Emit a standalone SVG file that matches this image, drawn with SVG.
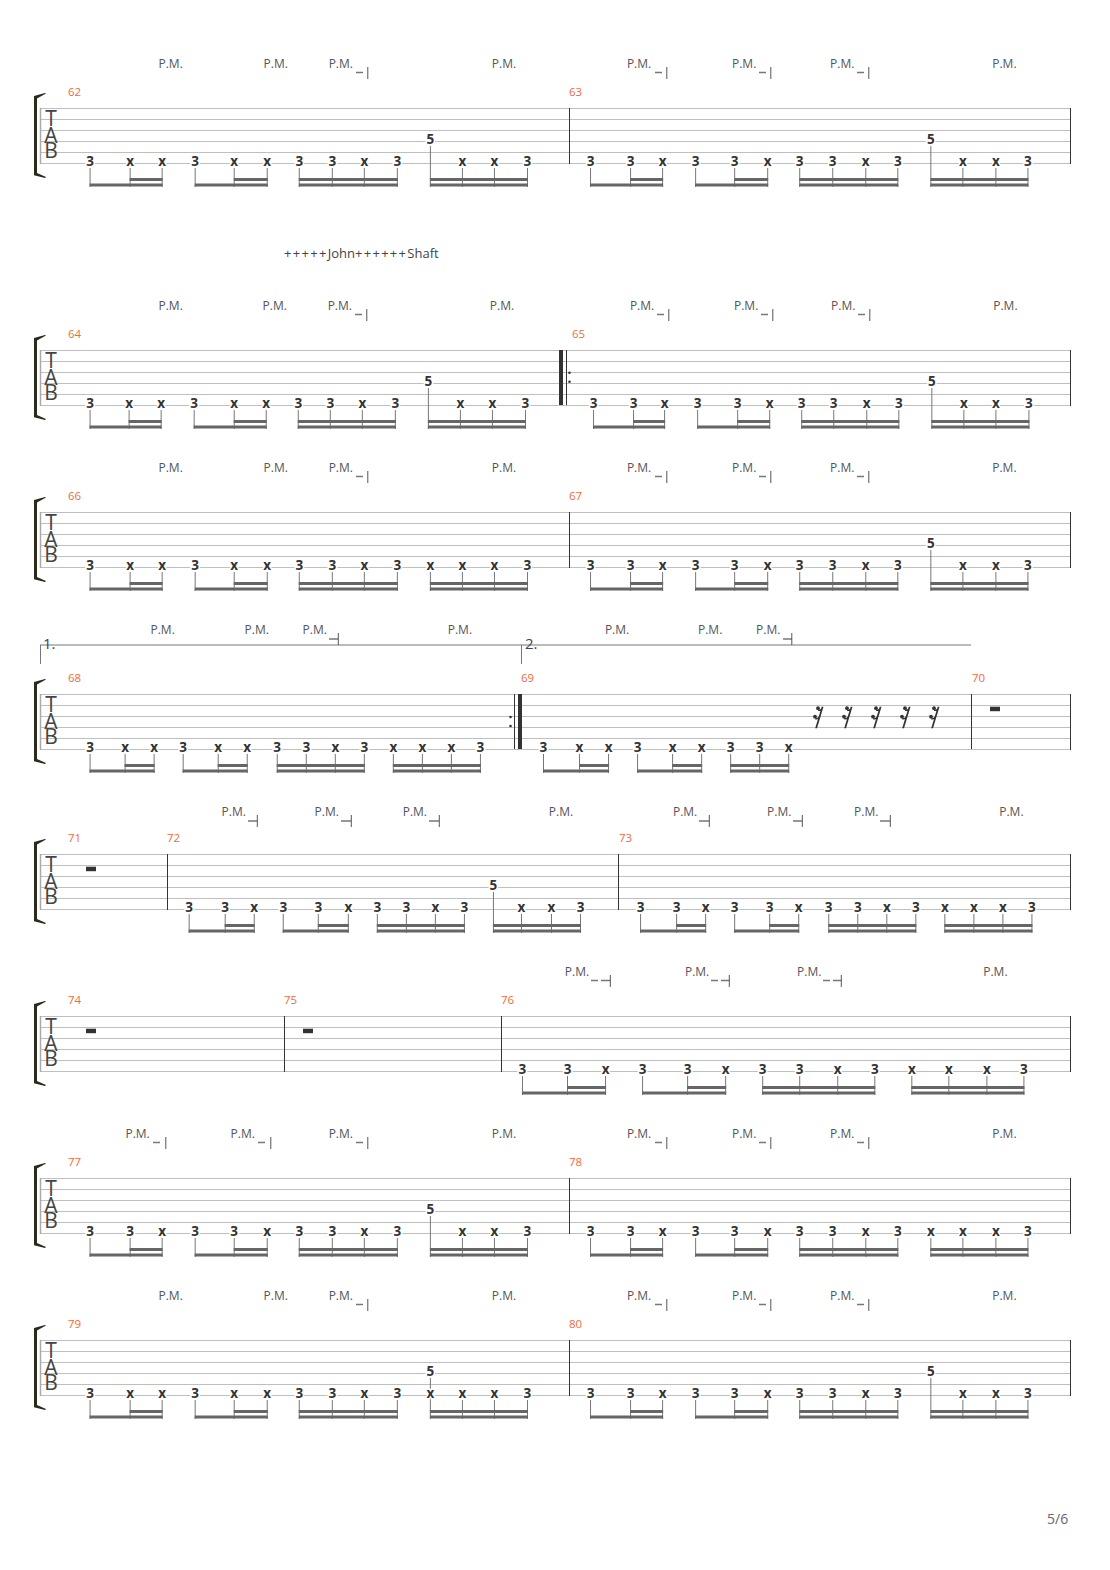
<svg xmlns="http://www.w3.org/2000/svg" width="1110" height="1570" viewBox="0 0 1110 1570">
<style>
text{font-family:"Open Sans","Liberation Sans",sans-serif}
.n{transform:scaleX(1.0009)}
.n text{font-size:13.500px;font-weight:700;fill:#333;text-anchor:middle;paint-order:stroke;stroke:#fff;stroke-width:3px}
.tab text{font-size:21px;fill:#444;text-anchor:middle}
.pm{transform:translate(.5px,0) scaleX(1.0009)}
.pm text{font-size:12px;fill:#555;text-anchor:middle}
.m{font-size:11.500px;fill:#f26a3c}
.sl{stroke:#bfbfbf;stroke-width:1;fill:none}
.lb{stroke:#aaa;stroke-width:1.500;fill:none}
.bar{stroke:#333;stroke-width:1;fill:none}
.st{stroke:#777;stroke-width:1;fill:none;transform:scaleX(1.0009)}
.b{stroke:#666;stroke-width:3;fill:none;transform:scaleX(1.0009)}
.dash{stroke:#777;stroke-width:1.500;fill:none}
.tick{stroke:#555;stroke-width:1;fill:none;transform:translateX(-.7px)}
.vl{stroke:#777;stroke-width:1;fill:none}
.rest{fill:#333}
</style>
<defs>
<g id="staff">
<path class="sl" d="M40 .5H1070.500M40 11.500H1070.500M40 22.500H1070.500M40 33.500H1070.500M40 44.500H1070.500M40 55.500H1070.500"/>
<path class="lb" d="M40.500 0V56"/>
<path class="bar" d="M1070.500 0V56"/>
<path d="M34 -12L45 -15L46 -14.500L37 -9.500V65L46 69L45 70L34 67.300Z" fill="#2b2b1c"/>
</g>
<path id="stems-a" class="st" d="M90 60V79M130 60V79M162 60V79M195 60V79M234 60V79M267 60V79M299 60V79M332 60V79M364 60V79M397 60V79M462 60V79M494 60V79M527 60V79M590 60V79M630 60V79M662 60V79M695 60V79M734 60V79M767 60V79M799 60V79M832 60V79M865 60V79M897 60V79M962 60V79M995 60V79M1027 60V79"/>
<path id="beams-a" class="b" d="M89.500 77H162.500M129.500 71.500H162.500M194.500 77H267.500M233.500 71.500H267.500M298.500 77H397.500M298.500 71.500H397.500M429.500 77H527.500M429.500 71.500H527.500M589.500 77H662.500M629.500 71.500H662.500M694.500 77H767.500M733.500 71.500H767.500M798.500 77H897.500M798.500 71.500H897.500M929.500 77H1027.500M929.500 71.500H1027.500"/>
<g id="r16" class="rest">
<circle cx="2" cy="1.500" r="1.900"/><circle cx="-1" cy="10" r="1.900"/>
<path d="M-.8 21.500L5.700 0H7.500L1 21.500ZM2 3Q4.500 3.500 6 0.500L6 3Q4 5 2 4ZM-1 11.500Q1.500 12 3.300 9L3 11.500Q1 13.500 -1 12.500Z"/>
</g>
<rect id="wr" class="rest" x="-5" y="0" width="10" height="4.500"/>
</defs>

<text id="lyrics" x="284" y="258" font-size="13" fill="#444"><tspan letter-spacing="1.300">+++++</tspan>John<tspan letter-spacing="1.300">++++++</tspan>Shaft</text>
<text id="page" x="1047" y="1524" font-size="14" fill="#666">5/6</text>

<g id="system-62" transform="translate(0,108)">
<use href="#staff"/>
<g class="tab"><text x="51" y="18">T</text><text x="51" y="35">A</text><text x="51" y="50">B</text></g>
<text class="m" x="68" y="-12">62</text><text class="m" x="569" y="-12">63</text>
<path class="bar" d="M569.500 0V56"/>
<g class="pm"><text x="170" y="-40">P.M.</text><text x="275" y="-40">P.M.</text><text x="340" y="-40">P.M.</text><text x="503" y="-40">P.M.</text><text x="638" y="-40">P.M.</text><text x="743" y="-40">P.M.</text><text x="841" y="-40">P.M.</text><text x="1003" y="-40">P.M.</text></g>
<path class="dash" d="M356 -35.500H363M655 -35.500H662M759 -35.500H766M857 -35.500H864"/>
<path class="tick" d="M368.500 -41V-29M667.500 -41V-29M771.500 -41V-29M869.500 -41V-29"/>
<use href="#stems-a"/><path class="st" d="M430 38V79M930 38V79"/><use href="#beams-a"/>
<g class="n"><text x="90" y="58">3</text><text x="130" y="58">x</text><text x="162" y="58">x</text><text x="195" y="58">3</text><text x="234" y="58">x</text><text x="267" y="58">x</text><text x="299" y="58">3</text><text x="332" y="58">3</text><text x="364" y="58">x</text><text x="397" y="58">3</text><text x="430" y="36">5</text><text x="462" y="58">x</text><text x="494" y="58">x</text><text x="527" y="58">3</text><text x="590" y="58">3</text><text x="630" y="58">3</text><text x="662" y="58">x</text><text x="695" y="58">3</text><text x="734" y="58">3</text><text x="767" y="58">x</text><text x="799" y="58">3</text><text x="832" y="58">3</text><text x="865" y="58">x</text><text x="897" y="58">3</text><text x="930" y="36">5</text><text x="962" y="58">x</text><text x="995" y="58">x</text><text x="1027" y="58">3</text></g>
</g>

<g id="system-64" transform="translate(0,350)">
<use href="#staff"/>
<g class="tab"><text x="51" y="18">T</text><text x="51" y="35">A</text><text x="51" y="50">B</text></g>
<text class="m" x="68" y="-12">64</text><text class="m" x="572" y="-12">65</text>
<rect x="559" y="0" width="4" height="55" fill="#333"/><path class="bar" d="M566.500 0V55"/><circle cx="569.500" cy="22.700" r="1.300" fill="#333"/><circle cx="569.500" cy="31.700" r="1.300" fill="#333"/>
<g class="pm"><text x="170" y="-40">P.M.</text><text x="274" y="-40">P.M.</text><text x="339" y="-40">P.M.</text><text x="501" y="-40">P.M.</text><text x="641" y="-40">P.M.</text><text x="745" y="-40">P.M.</text><text x="842" y="-40">P.M.</text><text x="1004" y="-40">P.M.</text></g>
<path class="dash" d="M355 -35.500H362M657 -35.500H664M761 -35.500H768M858 -35.500H865"/>
<path class="tick" d="M367.500 -41V-29M669.500 -41V-29M773.500 -41V-29M870.500 -41V-29"/>
<path class="st" d="M90 60V79M129 60V79M161 60V79M194 60V79M234 60V79M266 60V79M298 60V79M330 60V79M362 60V79M395 60V79M428 38V79M460 60V79M492 60V79M525 60V79M593 60V79M633 60V79M664 60V79M697 60V79M737 60V79M769 60V79M801 60V79M833 60V79M866 60V79M898 60V79M931 38V79M963 60V79M995 60V79M1028 60V79"/>
<path class="b" d="M89.500 77H161.500M128.500 71.500H161.500M193.500 77H266.500M233.500 71.500H266.500M297.500 77H395.500M297.500 71.500H395.500M427.500 77H525.500M427.500 71.500H525.500M592.500 77H664.500M632.500 71.500H664.500M696.500 77H769.500M736.500 71.500H769.500M800.500 77H898.500M800.500 71.500H898.500M930.500 77H1028.500M930.500 71.500H1028.500"/>
<g class="n"><text x="90" y="58">3</text><text x="129" y="58">x</text><text x="161" y="58">x</text><text x="194" y="58">3</text><text x="234" y="58">x</text><text x="266" y="58">x</text><text x="298" y="58">3</text><text x="330" y="58">3</text><text x="362" y="58">x</text><text x="395" y="58">3</text><text x="428" y="36">5</text><text x="460" y="58">x</text><text x="492" y="58">x</text><text x="525" y="58">3</text><text x="593" y="58">3</text><text x="633" y="58">3</text><text x="664" y="58">x</text><text x="697" y="58">3</text><text x="737" y="58">3</text><text x="769" y="58">x</text><text x="801" y="58">3</text><text x="833" y="58">3</text><text x="866" y="58">x</text><text x="898" y="58">3</text><text x="931" y="36">5</text><text x="963" y="58">x</text><text x="995" y="58">x</text><text x="1028" y="58">3</text></g>
</g>

<g id="system-66" transform="translate(0,512)">
<use href="#staff"/>
<g class="tab"><text x="51" y="18">T</text><text x="51" y="35">A</text><text x="51" y="50">B</text></g>
<text class="m" x="68" y="-12">66</text><text class="m" x="569" y="-12">67</text>
<path class="bar" d="M569.500 0V56"/>
<g class="pm"><text x="170" y="-40">P.M.</text><text x="275" y="-40">P.M.</text><text x="340" y="-40">P.M.</text><text x="503" y="-40">P.M.</text><text x="638" y="-40">P.M.</text><text x="743" y="-40">P.M.</text><text x="841" y="-40">P.M.</text><text x="1003" y="-40">P.M.</text></g>
<path class="dash" d="M356 -35.500H363M655 -35.500H662M759 -35.500H766M857 -35.500H864"/>
<path class="tick" d="M368.500 -41V-29M667.500 -41V-29M771.500 -41V-29M869.500 -41V-29"/>
<use href="#stems-a"/><path class="st" d="M430 60V79M930 38V79"/><use href="#beams-a"/>
<g class="n"><text x="90" y="58">3</text><text x="130" y="58">x</text><text x="162" y="58">x</text><text x="195" y="58">3</text><text x="234" y="58">x</text><text x="267" y="58">x</text><text x="299" y="58">3</text><text x="332" y="58">3</text><text x="364" y="58">x</text><text x="397" y="58">3</text><text x="430" y="58">x</text><text x="462" y="58">x</text><text x="494" y="58">x</text><text x="527" y="58">3</text><text x="590" y="58">3</text><text x="630" y="58">3</text><text x="662" y="58">x</text><text x="695" y="58">3</text><text x="734" y="58">3</text><text x="767" y="58">x</text><text x="799" y="58">3</text><text x="832" y="58">3</text><text x="865" y="58">x</text><text x="897" y="58">3</text><text x="930" y="36">5</text><text x="962" y="58">x</text><text x="995" y="58">x</text><text x="1027" y="58">3</text></g>
</g>

<g id="system-68" transform="translate(0,694)">
<use href="#staff"/>
<g class="tab"><text x="51" y="18">T</text><text x="51" y="35">A</text><text x="51" y="50">B</text></g>
<text class="m" x="68" y="-12">68</text><text class="m" x="521" y="-12">69</text><text class="m" x="972" y="-12">70</text>
<circle cx="510.500" cy="23" r="1.300" fill="#333"/><circle cx="510.500" cy="32" r="1.300" fill="#333"/><path class="bar" d="M514.500 0V55M971.500 0V55"/><rect x="518" y="0" width="4" height="55" fill="#333"/>
<path class="vl" d="M40.500 -49V-30M521.500 -49V-30"/><path class="vl" d="M40 -49H971" stroke-width="1.500"/>
<text x="43" y="-45" font-size="15" fill="#444">1.</text><text x="525" y="-45" font-size="15" fill="#444">2.</text>
<g class="pm"><text x="162" y="-60">P.M.</text><text x="256" y="-60">P.M.</text><text x="314" y="-60">P.M.</text><text x="459" y="-60">P.M.</text><text x="616" y="-60">P.M.</text><text x="709" y="-60">P.M.</text><text x="767" y="-60">P.M.</text></g>
<path class="dash" d="M329 -55H338M783 -55H792"/>
<path class="tick" d="M339 -61V-49M792.500 -61V-49"/>
<path class="st" d="M90 60V79M125 60V79M154 60V79M183 60V79M218 60V79M247 60V79M277 60V79M306 60V79M335 60V79M364 60V79M393 60V79M422 60V79M451 60V79M480 60V79M543 60V79M579 60V79M608 60V79M637 60V79M672 60V79M701 60V79M730 60V79M759 60V79M788 60V79"/>
<path class="b" d="M89.500 77H154.500M124.500 71.500H154.500M182.500 77H247.500M217.500 71.500H247.500M276.500 77H364.500M276.500 71.500H364.500M392.500 77H480.500M392.500 71.500H480.500M542.500 77H608.500M578.500 71.500H608.500M636.500 77H701.500M671.500 71.500H701.500M729.500 77H788.500M729.500 71.500H788.500"/>
<g class="n"><text x="90" y="58">3</text><text x="125" y="58">x</text><text x="154" y="58">x</text><text x="183" y="58">3</text><text x="218" y="58">x</text><text x="247" y="58">x</text><text x="277" y="58">3</text><text x="306" y="58">3</text><text x="335" y="58">x</text><text x="364" y="58">3</text><text x="393" y="58">x</text><text x="422" y="58">x</text><text x="451" y="58">x</text><text x="480" y="58">3</text><text x="543" y="58">3</text><text x="579" y="58">x</text><text x="608" y="58">x</text><text x="637" y="58">3</text><text x="672" y="58">x</text><text x="701" y="58">x</text><text x="730" y="58">3</text><text x="759" y="58">3</text><text x="788" y="58">x</text></g>
<use href="#r16" x="816" y="12.700"/><use href="#r16" x="845" y="12.700"/><use href="#r16" x="874" y="12.700"/><use href="#r16" x="903" y="12.700"/><use href="#r16" x="932" y="12.700"/>
<use href="#wr" x="995" y="12.700"/>
</g>

<g id="system-71" transform="translate(0,854)">
<use href="#staff"/>
<g class="tab"><text x="51" y="18">T</text><text x="51" y="35">A</text><text x="51" y="50">B</text></g>
<text class="m" x="68" y="-12">71</text><text class="m" x="167" y="-12">72</text><text class="m" x="619" y="-12">73</text>
<path class="bar" d="M167.500 0V56M618.500 0V56"/>
<use href="#wr" x="91" y="12.700"/>
<g class="pm"><text x="233" y="-38">P.M.</text><text x="326" y="-38">P.M.</text><text x="414" y="-38">P.M.</text><text x="560" y="-38">P.M.</text><text x="684" y="-38">P.M.</text><text x="778" y="-38">P.M.</text><text x="865" y="-38">P.M.</text><text x="1010" y="-38">P.M.</text></g>
<path class="dash" d="M248 -33H257M341 -33H351M429 -33H439M699 -33H709M793 -33H802M880 -33H890"/>
<path class="tick" d="M258 -39V-27M352 -39V-27M440 -39V-27M710 -39V-27M803 -39V-27M891 -39V-27"/>
<path class="st" d="M189 60V79M225 60V79M254 60V79M283 60V79M318 60V79M348 60V79M377 60V79M406 60V79M435 60V79M464 60V79M493 38V79M521 60V79M551 60V79M580 60V79M640 60V79M676 60V79M705 60V79M734 60V79M769 60V79M798 60V79M828 60V79M857 60V79M886 60V79M915 60V79M944 60V79M973 60V79M1002 60V79M1031 60V79"/>
<path class="b" d="M188.500 77H254.500M224.500 71.500H254.500M282.500 77H348.500M317.500 71.500H348.500M376.500 77H464.500M376.500 71.500H464.500M492.500 77H580.500M492.500 71.500H580.500M639.500 77H705.500M675.500 71.500H705.500M733.500 77H798.500M768.500 71.500H798.500M827.500 77H915.500M827.500 71.500H915.500M943.500 77H1031.500M943.500 71.500H1031.500"/>
<g class="n"><text x="189" y="58">3</text><text x="225" y="58">3</text><text x="254" y="58">x</text><text x="283" y="58">3</text><text x="318" y="58">3</text><text x="348" y="58">x</text><text x="377" y="58">3</text><text x="406" y="58">3</text><text x="435" y="58">x</text><text x="464" y="58">3</text><text x="493" y="36">5</text><text x="521" y="58">x</text><text x="551" y="58">x</text><text x="580" y="58">3</text><text x="640" y="58">3</text><text x="676" y="58">3</text><text x="705" y="58">x</text><text x="734" y="58">3</text><text x="769" y="58">3</text><text x="798" y="58">x</text><text x="828" y="58">3</text><text x="857" y="58">3</text><text x="886" y="58">x</text><text x="915" y="58">3</text><text x="944" y="58">x</text><text x="973" y="58">x</text><text x="1002" y="58">x</text><text x="1031" y="58">3</text></g>
</g>

<g id="system-74" transform="translate(0,1016)">
<use href="#staff"/>
<g class="tab"><text x="51" y="18">T</text><text x="51" y="35">A</text><text x="51" y="50">B</text></g>
<text class="m" x="68" y="-12">74</text><text class="m" x="284" y="-12">75</text><text class="m" x="501" y="-12">76</text>
<path class="bar" d="M284.500 0V56M501.500 0V56"/>
<use href="#wr" x="91" y="12.700"/><use href="#wr" x="308" y="12.700"/>
<g class="pm"><text x="576" y="-40">P.M.</text><text x="696" y="-40">P.M.</text><text x="808" y="-40">P.M.</text><text x="994" y="-40">P.M.</text></g>
<path class="dash" d="M591 -35.500H598M601 -35.500H610M711 -35.500H718M721 -35.500H729M823 -35.500H830M833 -35.500H841"/>
<path class="tick" d="M611 -41V-29M730 -41V-29M842 -41V-29"/>
<path class="st" d="M522 60V79M567 60V79M605 60V79M642 60V79M687 60V79M725 60V79M762 60V79M799 60V79M837 60V79M874 60V79M911 60V79M948 60V79M986 60V79M1023 60V79"/>
<path class="b" d="M521.500 77H605.500M566.500 71.500H605.500M641.500 77H725.500M686.500 71.500H725.500M761.500 77H874.500M761.500 71.500H874.500M910.500 77H1023.500M910.500 71.500H1023.500"/>
<g class="n"><text x="522" y="58">3</text><text x="567" y="58">3</text><text x="605" y="58">x</text><text x="642" y="58">3</text><text x="687" y="58">3</text><text x="725" y="58">x</text><text x="762" y="58">3</text><text x="799" y="58">3</text><text x="837" y="58">x</text><text x="874" y="58">3</text><text x="911" y="58">x</text><text x="948" y="58">x</text><text x="986" y="58">x</text><text x="1023" y="58">3</text></g>
</g>

<g id="system-77" transform="translate(0,1178)">
<use href="#staff"/>
<g class="tab"><text x="51" y="18">T</text><text x="51" y="35">A</text><text x="51" y="50">B</text></g>
<text class="m" x="68" y="-12">77</text><text class="m" x="569" y="-12">78</text>
<path class="bar" d="M569.500 0V56"/>
<g class="pm"><text x="137" y="-40">P.M.</text><text x="242" y="-40">P.M.</text><text x="340" y="-40">P.M.</text><text x="503" y="-40">P.M.</text><text x="638" y="-40">P.M.</text><text x="743" y="-40">P.M.</text><text x="841" y="-40">P.M.</text><text x="1003" y="-40">P.M.</text></g>
<path class="dash" d="M153 -35.500H160M258 -35.500H265M356 -35.500H363M655 -35.500H662M759 -35.500H766M857 -35.500H864"/>
<path class="tick" d="M166.500 -41V-29M271.500 -41V-29M368.500 -41V-29M667.500 -41V-29M771.500 -41V-29M869.500 -41V-29"/>
<use href="#stems-a"/><path class="st" d="M430 38V79M930 60V79"/><use href="#beams-a"/>
<g class="n"><text x="90" y="58">3</text><text x="130" y="58">3</text><text x="162" y="58">x</text><text x="195" y="58">3</text><text x="234" y="58">3</text><text x="267" y="58">x</text><text x="299" y="58">3</text><text x="332" y="58">3</text><text x="364" y="58">x</text><text x="397" y="58">3</text><text x="430" y="36">5</text><text x="462" y="58">x</text><text x="494" y="58">x</text><text x="527" y="58">3</text><text x="590" y="58">3</text><text x="630" y="58">3</text><text x="662" y="58">x</text><text x="695" y="58">3</text><text x="734" y="58">3</text><text x="767" y="58">x</text><text x="799" y="58">3</text><text x="832" y="58">3</text><text x="865" y="58">x</text><text x="897" y="58">3</text><text x="930" y="58">x</text><text x="962" y="58">x</text><text x="995" y="58">x</text><text x="1027" y="58">3</text></g>
</g>

<g id="system-79" transform="translate(0,1340)">
<use href="#staff"/>
<g class="tab"><text x="51" y="18">T</text><text x="51" y="35">A</text><text x="51" y="50">B</text></g>
<text class="m" x="68" y="-12">79</text><text class="m" x="569" y="-12">80</text>
<path class="bar" d="M569.500 0V56"/>
<g class="pm"><text x="170" y="-40">P.M.</text><text x="275" y="-40">P.M.</text><text x="340" y="-40">P.M.</text><text x="503" y="-40">P.M.</text><text x="638" y="-40">P.M.</text><text x="743" y="-40">P.M.</text><text x="841" y="-40">P.M.</text><text x="1003" y="-40">P.M.</text></g>
<path class="dash" d="M356 -35.500H363M655 -35.500H662M759 -35.500H766M857 -35.500H864"/>
<path class="tick" d="M368.500 -41V-29M667.500 -41V-29M771.500 -41V-29M869.500 -41V-29"/>
<use href="#stems-a"/><path class="st" d="M430 38V79M930 38V79"/><use href="#beams-a"/>
<g class="n"><text x="90" y="58">3</text><text x="130" y="58">x</text><text x="162" y="58">x</text><text x="195" y="58">3</text><text x="234" y="58">x</text><text x="267" y="58">x</text><text x="299" y="58">3</text><text x="332" y="58">3</text><text x="364" y="58">x</text><text x="397" y="58">3</text><text x="430" y="36">5</text><text x="430" y="58">x</text><text x="462" y="58">x</text><text x="494" y="58">x</text><text x="527" y="58">3</text><text x="590" y="58">3</text><text x="630" y="58">3</text><text x="662" y="58">x</text><text x="695" y="58">3</text><text x="734" y="58">3</text><text x="767" y="58">x</text><text x="799" y="58">3</text><text x="832" y="58">3</text><text x="865" y="58">x</text><text x="897" y="58">3</text><text x="930" y="36">5</text><text x="962" y="58">x</text><text x="995" y="58">x</text><text x="1027" y="58">3</text></g>
</g>
</svg>
